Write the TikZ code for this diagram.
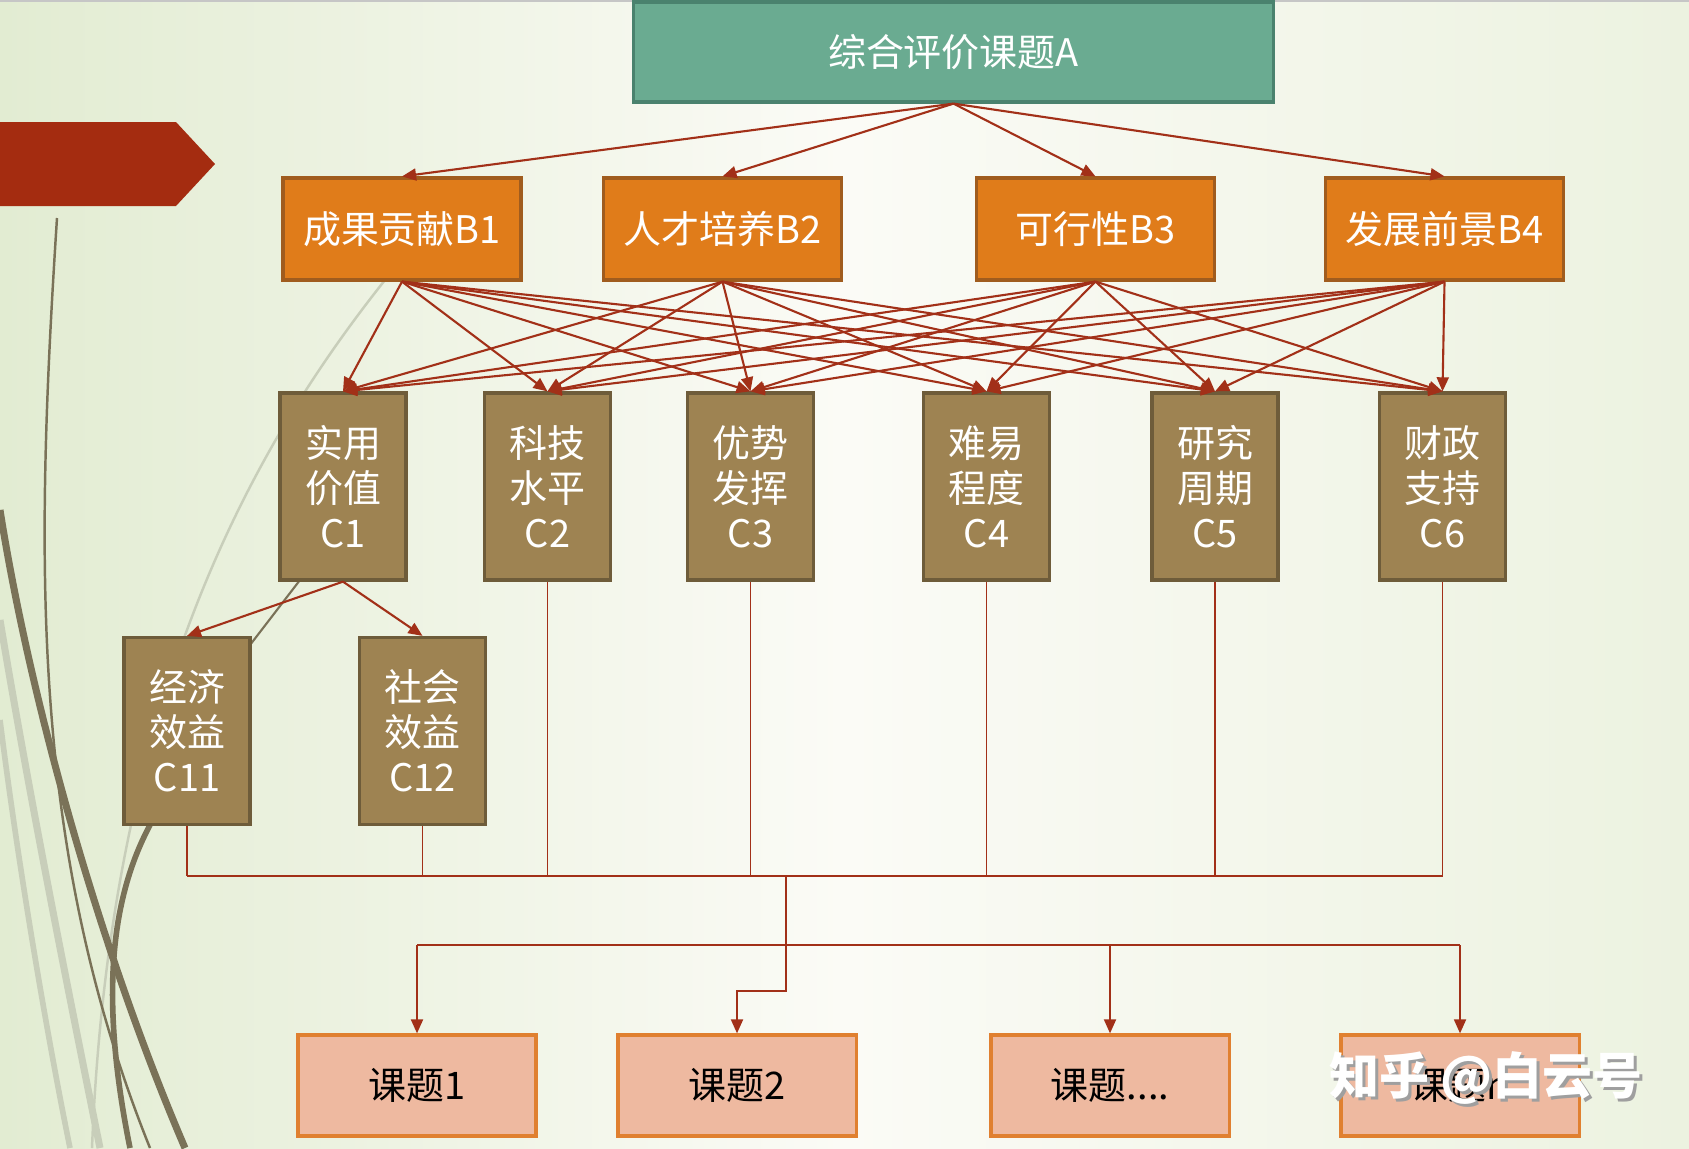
\documentclass[tikz,border=0pt]{standalone}
\usepackage{fontspec}
\setmainfont{Noto Sans CJK SC}
\usetikzlibrary{arrows.meta}

\definecolor{bgleft}{RGB}{226,236,210}
\definecolor{bgmid}{RGB}{251,251,246}
\definecolor{bgright}{RGB}{236,242,224}
\definecolor{tealbox}{RGB}{106,171,145}
\definecolor{tealline}{RGB}{74,130,110}
\definecolor{orangebox}{RGB}{224,124,26}
\definecolor{orangeline}{RGB}{160,92,30}
\definecolor{olivebox}{RGB}{158,131,82}
\definecolor{oliveline}{RGB}{110,92,58}
\definecolor{salmonbox}{RGB}{238,185,160}
\definecolor{salmonline}{RGB}{224,128,48}
\definecolor{arrowred}{RGB}{162,48,24}
\definecolor{wisp}{RGB}{122,114,88}
\definecolor{wisplight}{RGB}{200,206,186}
\definecolor{tabred}{RGB}{164,44,16}

\tikzset{
	box/.style={draw, line width=0.9pt, inner sep=0pt, align=center,
		font=\fontsize{10.8}{12.8}\selectfont},
	topbox/.style={box, fill=tealbox, draw=tealline, text=white,
		minimum width=6.39cm, minimum height=1.0cm},
	critbox/.style={box, fill=orangebox, draw=orangeline, text=white,
		minimum width=2.38cm, minimum height=1.02cm},
	subbox/.style={box, fill=olivebox, draw=oliveline, text=white,
		minimum width=1.26cm, minimum height=1.87cm},
	topicbox/.style={box, fill=salmonbox, draw=salmonline, text=black,
		minimum width=2.38cm, minimum height=1.01cm},
	link/.style={arrowred, line width=0.6pt, -{Triangle[length=4pt,width=3.4pt]}},
	wire/.style={arrowred, line width=0.5pt},
}

\begin{document}
\begin{tikzpicture}[x=0.01cm, y=-0.01cm]
	\useasboundingbox (0,0) rectangle (1689,1148);
	% Background
	\shade[left color=bgleft, right color=bgright, middle color=bgmid] (0,0) rectangle (1689,1148);
	\draw[gray!45, line width=0.8pt] (0,1) -- (1689,1);
	\fill[tabred] (0,122) -- (176,122) -- (215,164) -- (176,206) -- (0,206) -- cycle;
	% Wisps
	\draw[wisplight, line width=0.7pt] (385,280) .. controls (250,450) and (110,700) .. (92,1148);
	\draw[wisplight, line width=2pt] (0,620) .. controls (30,800) and (70,1000) .. (100,1148);
	\draw[wisplight, line width=1.6pt] (0,720) .. controls (20,880) and (50,1050) .. (70,1148);
	\draw[wisp, line width=0.7pt] (57,218) .. controls (35,560) and (30,850) .. (150,1148);
	\draw[wisp, line width=2pt] (0,510) .. controls (30,700) and (100,950) .. (185,1148);
	\draw[wisp, line width=0.6pt] (300,580) -- (250,645);
	\draw[wisp, line width=1.6pt] (150,825) .. controls (110,900) and (100,1000) .. (130,1148);

	% Level A
	\node[topbox] (a) at (953.5,52) {综合评价课题A};
	% Level B
	\node[critbox] (b1) at (402,229) {成果贡献B1};
	\node[critbox] (b2) at (722.5,229) {人才培养B2};
	\node[critbox] (b3) at (1095.5,229) {可行性B3};
	\node[critbox] (b4) at (1444.5,229) {发展前景B4};
	% Level C
	\node[subbox] (c1) at (343,486.5) {实用\\价值\\C1};
	\node[subbox] (c2) at (547.5,486.5) {科技\\水平\\C2};
	\node[subbox] (c3) at (750.5,486.5) {优势\\发挥\\C3};
	\node[subbox] (c4) at (986.5,486.5) {难易\\程度\\C4};
	\node[subbox] (c5) at (1215,486.5) {研究\\周期\\C5};
	\node[subbox] (c6) at (1442.5,486.5) {财政\\支持\\C6};
	\node[subbox] (c11) at (187,731) {经济\\效益\\C11};
	\node[subbox] (c12) at (422.5,731) {社会\\效益\\C12};
	% Topics
	\node[topicbox] (t1) at (417,1085.5) {课题1};
	\node[topicbox] (t2) at (737,1085.5) {课题2};
	\node[topicbox] (t3) at (1110,1085.5) {课题....};
	\node[topicbox] (t4) at (1460,1085.5) {课题n};

	% A to B
	\foreach \b in {1, ..., 4} {
		\draw[link] (a.south) -- (b\b.north);
	}
	% B to C
	\foreach \b in {1, ..., 4} {
		\foreach \c in {1, ..., 6} {
			\draw[link] (b\b.south) -- (c\c.north);
		}
	}
	\draw[link] (c1.south) -- (c11.north);
	\draw[link] (c1.south) -- (c12.north);

	% Collect
	\coordinate (bus) at (786,876);
	\coordinate (split) at (786,945);
	\coordinate (jog) at (786,991);
	\foreach \n in {c11, c12, c2, c3, c4, c5, c6} {
		\draw[wire] (\n.south) -- (\n.south |- bus);
	}
	\draw[wire] (c11.south |- bus) -- (c6.south |- bus);
	\draw[wire, line width=0.7pt] (bus) -- (split);
	\draw[wire, line width=0.7pt] (t1.north |- split) -- (t4.north |- split);
	\foreach \t in {t1, t3, t4} {
		\draw[link] (\t.north |- split) -- (\t.north);
	}
	\draw[link] (split) -- (jog) -| (t2.north);

	% Watermark
	\node[text=gray!75, font=\fontsize{14.2}{14.2}\selectfont\bfseries] (markshadow) at (1489,1081) {知乎 @白云号};
	\node[text=white, font=\fontsize{14.2}{14.2}\selectfont\bfseries] (mark) at (1486,1078) {知乎 @白云号};
\end{tikzpicture}
\end{document}
